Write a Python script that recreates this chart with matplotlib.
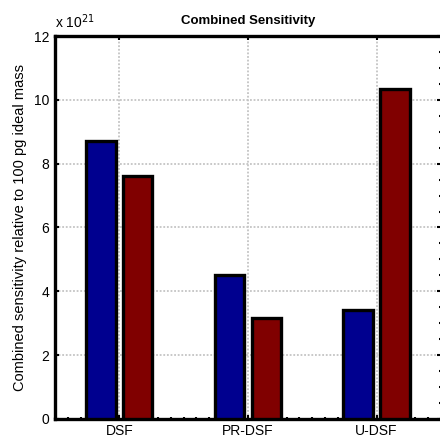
import numpy as np
import matplotlib.pyplot as plt
from matplotlib.ticker import MultipleLocator

plt.rcParams["font.family"] = ["Liberation Sans", "DejaVu Sans"]

# Data (values in units of 1e21)
methods = ["DSF", "PR-DSF", "U-DSF"]
series_a = [8.70, 4.51, 3.42]
series_b = [7.62, 3.17, 10.34]
colors = ["#00008f", "#800000"]

fig = plt.figure(figsize=(4.4, 4.4), dpi=100)
ax = fig.add_axes([0.125, 0.048, 0.877, 0.870])

x = np.arange(1, len(methods) + 1)
width = 0.229
offset = 0.143

ax.bar(x - offset, series_a, width, color=colors[0], edgecolor="black",
       linewidth=2.4, zorder=3)
ax.bar(x + offset, series_b, width, color=colors[1], edgecolor="black",
       linewidth=2.4, zorder=3)

ax.set_xlim(0.5, 3.5)
ax.set_ylim(0, 12)
ax.set_xticks(x)
ax.set_xticklabels(methods)
ax.yaxis.set_major_locator(MultipleLocator(2))
ax.yaxis.set_minor_locator(MultipleLocator(0.5))
ax.xaxis.set_minor_locator(MultipleLocator(0.1))

ax.tick_params(which="both", direction="in", top=True, right=True,
               labelsize=10, width=1.5, pad=4)
ax.tick_params(which="major", length=3)
ax.tick_params(which="minor", length=1.5)

ax.grid(True, linestyle=(0, (1, 1)), color="#c4c4c4", linewidth=1.3, zorder=0)
ax.set_axisbelow(True)

for side in ["left", "bottom", "top"]:
    ax.spines[side].set_linewidth(2.4)
ax.spines["right"].set_linewidth(1.0)
ax.spines["right"].set_color("#999999")

ax.set_ylabel("Combined sensitivity relative to 100 pg ideal mass",
              fontsize=10.5, labelpad=5)
ax.set_title("Combined Sensitivity", fontsize=9.5, fontweight="bold", pad=9)
ax.text(0.0, 1.012, r"x 10$^{21}$", transform=ax.transAxes, fontsize=10,
        ha="left", va="bottom")

fig.savefig("out.png", dpi=100)
